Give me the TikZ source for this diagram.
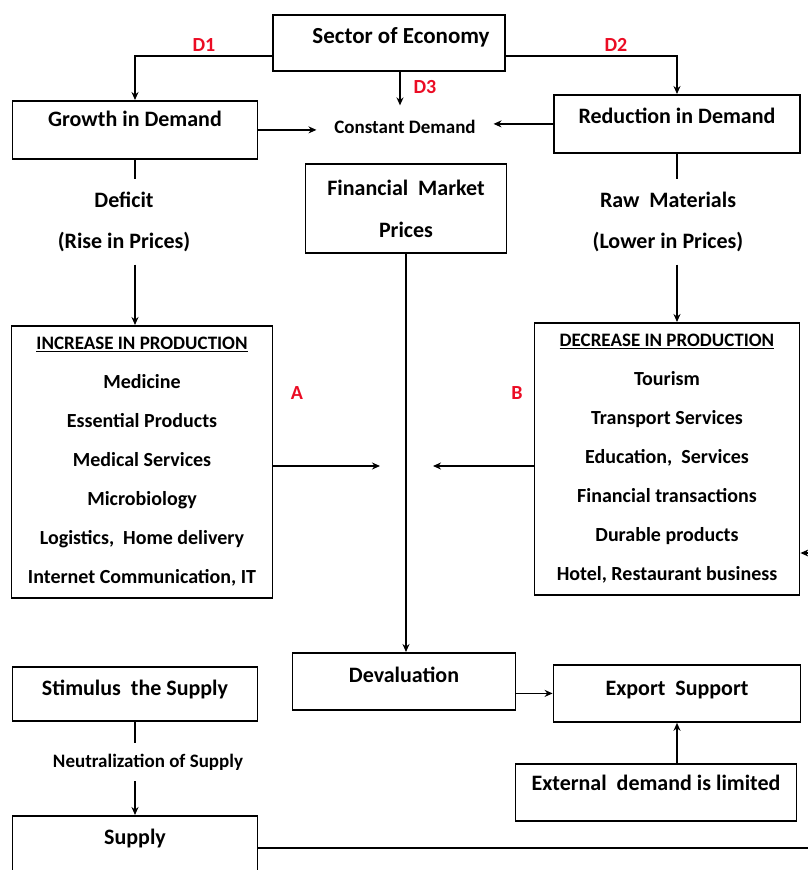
\documentclass[tikz,border=0pt]{standalone}
\usepackage{fontspec}
\setmainfont{Carlito}
\usetikzlibrary{arrows.meta, positioning}
\definecolor{lblred}{RGB}{235,12,36}

\begin{document}
\begin{tikzpicture}[x=1pt, y=-1pt, line width=1.8pt,
  box/.style 2 args={draw, inner sep=0pt, anchor=north, text height=#1, text depth=#2, font=\fontsize{22}{26}\selectfont\bfseries},
  list/.style={draw, inner sep=0pt, anchor=north, align=center, font=\fontsize{20}{39}\selectfont\bfseries},
  txt/.style={inner sep=0pt, font=\fontsize{22}{26}\selectfont\bfseries},
  tag/.style={text=lblred, inner sep=0pt, font=\fontsize{20}{24}\selectfont\bfseries},
  arr/.style={-{Stealth[length=8pt, width=7pt]}}]

\useasboundingbox (0,0) rectangle (807,870);

\node[box={29pt}{27pt}, minimum width=232pt, font=\fontsize{23}{26}\selectfont\bfseries] (sector) at (389,14) {\hspace*{24pt}Sector of Economy};
\node[box={26pt}{32pt}, minimum width=245pt] (growth) at (135,100) {Growth in Demand};
\node[box={29pt}{29pt}, minimum width=246pt] (reduct) at (677,94) {Reduction in Demand};
\node[txt, font=\fontsize{19}{23}\selectfont\bfseries, inner xsep=17pt, inner ysep=14pt] (cdemand) at (405,127) {Constant Demand};
\node[draw, inner sep=0pt, anchor=north, align=center, minimum width=201pt, minimum height=89pt,
  font=\fontsize{22}{42}\selectfont\bfseries] (finance) at (406,163) {Financial~~Market\\Prices};

\node[txt, inner ysep=12pt] (deficit) at (124,200) {Deficit};
\node[txt, inner ysep=12pt] (rise) at (124,242) {(Rise in Prices)};
\node[txt, inner ysep=12pt] (rawmat) at (668,200) {Raw~~Materials};
\node[txt, inner ysep=12pt] (lower) at (668,242) {(Lower in Prices)};

\node[list, minimum width=261pt, minimum height=272pt] (incr) at (142,325)
  {{\fontsize{19}{20}\selectfont\underline{INCREASE IN PRODUCTION}}\\Medicine\\Essential Products\\Medical Services\\Microbiology\\Logistics,~~Home delivery\\Internet Communication, IT};
\node[list, minimum width=265pt, minimum height=272pt] (decr) at (667,322)
  {{\fontsize{19}{20}\selectfont\underline{DECREASE IN PRODUCTION}}\\Tourism\\Transport Services\\Education,~~Services\\Financial transactions\\Durable products\\Hotel, Restaurant business};

\node[box={30pt}{27pt}, minimum width=223pt] (deval) at (404,652) {Devaluation};
\node[box={31pt}{26pt}, minimum width=247pt] (export) at (677,664) {Export~~Support};
\node[box={27pt}{30pt}, minimum width=281pt] (extern) at (656,763) {External~~demand is limited};
\node[box={29pt}{25pt}, minimum width=245pt] (stim) at (135,666) {Stimulus~~the Supply};
\node[txt, font=\fontsize{19}{22}\selectfont\bfseries, inner ysep=10pt] (neutral) at (148,762) {Neutralization of Supply};
\node[box={29pt}{60pt}, minimum width=245pt] (supply) at (135,815) {Supply};

\node[tag] (tagdone) at (204,45) {D1};
\node[tag] (tagdtwo) at (616,45) {D2};
\node[tag] (tagdthree) at (425,87) {D3};
\node[tag] (taga) at (297,393) {A};
\node[tag] (tagb) at (517,393) {B};

\coordinate (aend) at (380,466);
\coordinate (bend) at (433,466);
\coordinate (sret) at (830,848);
\coordinate (dret) at (830,553);

\draw[arr] ([yshift=-13pt]sector.west) -| (growth.north);
\draw[arr] ([yshift=-13pt]sector.east) -| (reduct.north);
\draw[arr] ([xshift=11pt]sector.south) -- ([xshift=11pt]sector.south |- cdemand.north);
\draw[arr] (growth.east) -- (growth.east -| cdemand.west);
\draw[arr] (reduct.west) -- (reduct.west -| cdemand.east);
\draw (growth.south) -- (growth.south |- deficit.north);
\draw[arr] (growth.south |- rise.south) -- (growth.south |- incr.north);
\draw (reduct.south) -- (reduct.south |- rawmat.north);
\draw[arr] (reduct.south |- lower.south) -- (reduct.south |- decr.north);
\draw[arr] (finance.south) -- (finance.south |- deval.north);
\draw[arr] (incr.east |- aend) -- (aend);
\draw[arr] (decr.west |- bend) -- (bend);
\draw[arr] (deval.east |- export.west) -- (export.west);
\draw[arr] (export.south |- extern.north) -- (export.south);
\draw (stim.south) -- (stim.south |- neutral.north);
\draw[arr] (stim.south |- neutral.south) -- (supply.north);
\draw[arr] (supply.east |- sret) -- (sret) -- (dret) -- (decr.east |- dret);
\end{tikzpicture}
\end{document}
